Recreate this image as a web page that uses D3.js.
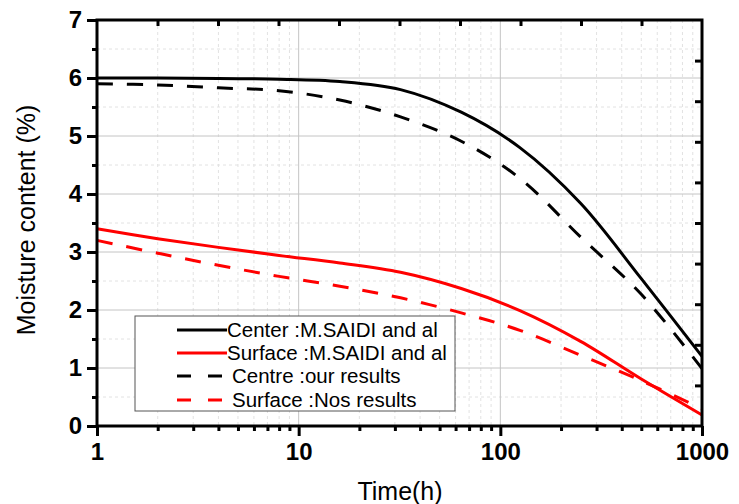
<!DOCTYPE html>
<html><head><meta charset="utf-8">
<script src="https://cdn.jsdelivr.net/npm/d3@7"></script>
<style>
html,body{margin:0;padding:0;background:#fff;}
svg{display:block;font-family:"Liberation Sans",Arial,sans-serif;}
</style></head>
<body><svg id="chart" width="739" height="504"></svg>
<script>
// ---- data ----
const times = [1, 2, 4, 8, 16, 32, 64, 125, 250, 500, 1000];
const centerSaidi  = [6.0, 6.0, 5.99, 5.98, 5.94, 5.80, 5.41, 4.80, 3.84, 2.54, 1.2];
const surfaceSaidi = [3.4, 3.23, 3.08, 2.94, 2.81, 2.65, 2.37, 1.99, 1.46, 0.81, 0.19];
const centreOurs   = [5.9, 5.88, 5.83, 5.78, 5.62, 5.33, 4.91, 4.27, 3.26, 2.27, 0.99];
const surfaceOurs  = [3.2, 2.98, 2.77, 2.58, 2.41, 2.21, 1.95, 1.65, 1.22, 0.78, 0.3];
const seriesNames = ["Center :M.SAIDI and al", "Surface :M.SAIDI and al", "Centre :our results", "Surface :Nos results"];
const xTickLabels = [1, 10, 100, 1000];
const yTickLabels = [0, 1, 2, 3, 4, 5, 6, 7];
const xTitle = "Time(h)";
const yTitle = "Moisture content (%)";

const series = [
  {name: seriesNames[0], values: centerSaidi,  color: "#000000", dash: null},
  {name: seriesNames[1], values: surfaceSaidi, color: "#ff0000", dash: null},
  {name: seriesNames[2], values: centreOurs,   color: "#000000", dash: "16,14"},
  {name: seriesNames[3], values: surfaceOurs,  color: "#ff0000", dash: "16,14"}
];

const svg = d3.select("#chart");
const PL = 97, PR = 702, PT = 20, PB = 426;
const x = d3.scaleLog().domain([1, 1000]).range([PL, PR]);
const y = d3.scaleLinear().domain([0, 7]).range([PB, PT]);

const minorX = [];
for (let d = 1; d < 1000; d *= 10) for (let k = 2; k <= 9; k++) minorX.push(d * k);
const minorY = d3.range(0.5, 7, 1);

// grid
const grid = svg.append("g");
grid.selectAll(".mgx").data(minorX).join("line")
  .attr("x1", d => x(d)).attr("x2", d => x(d)).attr("y1", PT).attr("y2", PB)
  .attr("stroke", "#e2e2e2").attr("stroke-width", 1).attr("stroke-dasharray", "3,3");
grid.selectAll(".mgy").data(minorY).join("line")
  .attr("x1", PL).attr("x2", PR).attr("y1", d => y(d)).attr("y2", d => y(d))
  .attr("stroke", "#e2e2e2").attr("stroke-width", 1).attr("stroke-dasharray", "3,3");
grid.selectAll(".Mgx").data(xTickLabels.slice(1, -1)).join("line")
  .attr("x1", d => x(d)).attr("x2", d => x(d)).attr("y1", PT).attr("y2", PB)
  .attr("stroke", "#c4c4c4").attr("stroke-width", 1);
grid.selectAll(".Mgy").data(yTickLabels.slice(1, -1)).join("line")
  .attr("x1", PL).attr("x2", PR).attr("y1", d => y(d)).attr("y2", d => y(d))
  .attr("stroke", "#c4c4c4").attr("stroke-width", 1);

// curves
const line = d3.line().x(d => x(d[0])).y(d => y(d[1])).curve(d3.curveCatmullRom.alpha(0.5));
series.forEach(s => {
  svg.append("path")
    .attr("d", line(times.map((t, i) => [t, s.values[i]])))
    .attr("fill", "none").attr("stroke", s.color).attr("stroke-width", 3)
    .attr("stroke-dasharray", s.dash);
});

// axes
const tickStyle = g => g.selectAll("line").attr("stroke", "#000").attr("stroke-width", 3);
const axB = svg.append("g").attr("transform", `translate(0,${PB})`);
axB.call(d3.axisBottom(x).tickValues(xTickLabels).tickFormat(d3.format("d")).tickSize(10).tickSizeOuter(0));
axB.select(".domain").remove();
axB.call(tickStyle);
axB.selectAll("text").attr("font-size", 24).attr("font-weight", "bold").attr("fill", "#000")
  .attr("font-family", "'Liberation Sans',Arial,sans-serif").attr("dy", null).attr("y", 34);
const axBm = svg.append("g").attr("transform", `translate(0,${PB})`);
axBm.call(d3.axisBottom(x).tickValues(minorX).tickFormat("").tickSize(5).tickSizeOuter(0));
axBm.select(".domain").remove();
axBm.call(tickStyle);

const axL = svg.append("g").attr("transform", `translate(${PL},0)`);
axL.call(d3.axisLeft(y).tickValues(yTickLabels).tickFormat(d3.format("d")).tickSize(10).tickSizeOuter(0).tickPadding(5));
axL.select(".domain").remove();
axL.call(tickStyle);
axL.selectAll("text").attr("font-size", 24).attr("font-weight", "bold").attr("fill", "#000")
  .attr("font-family", "'Liberation Sans',Arial,sans-serif");
const axLm = svg.append("g").attr("transform", `translate(${PL},0)`);
axLm.call(d3.axisLeft(y).tickValues(minorY).tickFormat("").tickSize(5).tickSizeOuter(0));
axLm.select(".domain").remove();
axLm.call(tickStyle);

// top ticks (inward)
const topVals = d3.range(1, 10).map(k => Math.pow(10, 0.3 * k));
const axT = svg.append("g").attr("transform", `translate(0,${PT})`);
axT.call(d3.axisBottom(x).tickValues(topVals).tickFormat("").tickSize(6).tickSizeOuter(0));
axT.select(".domain").remove();
axT.call(tickStyle);
// right ticks (inward)
const rightVals = d3.range(1, 10).map(k => 0.7 * k);
const axR = svg.append("g").attr("transform", `translate(${PR},0)`);
axR.call(d3.axisLeft(y).tickValues(rightVals).tickFormat("").tickSize(7).tickSizeOuter(0));
axR.select(".domain").remove();
axR.call(tickStyle);

// frame
svg.append("rect").attr("x", PL).attr("y", PT).attr("width", PR - PL).attr("height", PB - PT)
  .attr("fill", "none").attr("stroke", "#000").attr("stroke-width", 3);

// axis titles
svg.append("text").attr("x", 400).attr("y", 500).attr("text-anchor", "middle")
  .attr("font-size", 25).attr("fill", "#000").text(xTitle);
svg.append("text").attr("transform", "translate(35,220) rotate(-90)").attr("text-anchor", "middle")
  .attr("font-size", 25).attr("fill", "#000").text(yTitle);

// legend
const lg = svg.append("g");
lg.append("rect").attr("x", 135).attr("y", 316).attr("width", 320).attr("height", 95)
  .attr("fill", "#fff").attr("stroke", "#555").attr("stroke-width", 1);
const rowY = [330, 353, 376, 400];
series.forEach((s, i) => {
  lg.append("line").attr("x1", 177).attr("x2", s.dash ? 223 : 227)
    .attr("y1", rowY[i]).attr("y2", rowY[i])
    .attr("stroke", s.color).attr("stroke-width", 3)
    .attr("stroke-dasharray", s.dash ? "14,17" : null);
  lg.append("text").attr("x", s.dash ? 232 : 227).attr("y", rowY[i]).attr("dy", "0.35em")
    .attr("font-size", 20.5).attr("fill", "#000").text(s.name);
});
</script></body></html>
